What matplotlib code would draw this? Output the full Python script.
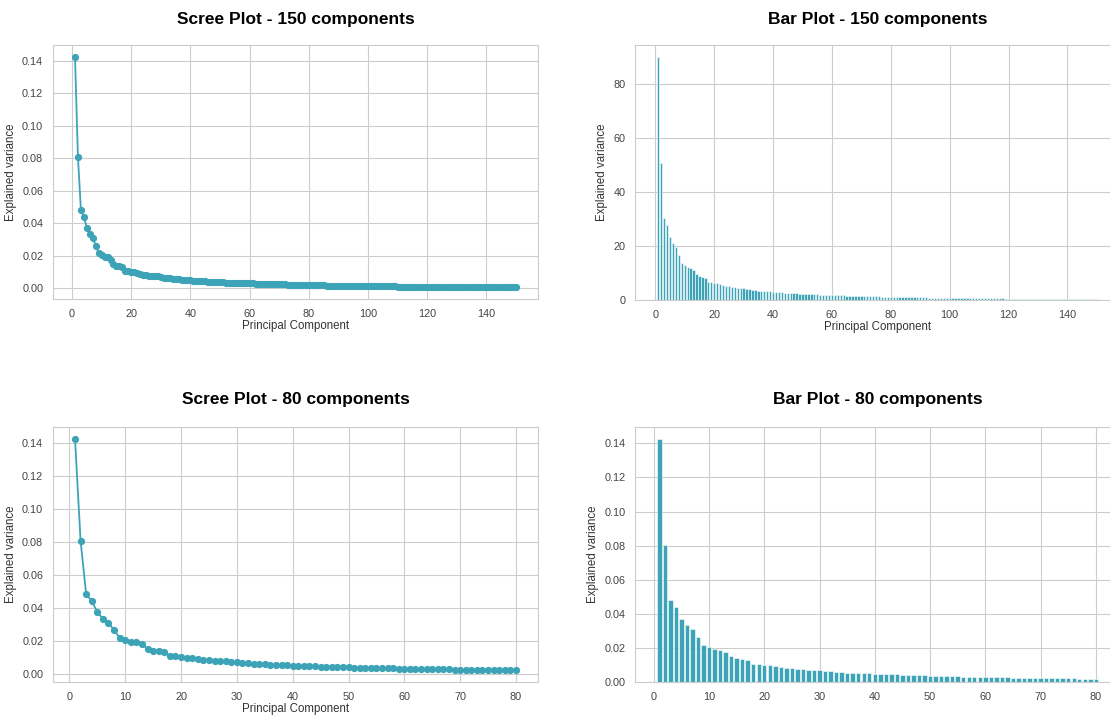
'''
Scree and bar plots of PCA explained variance for 150 and 80 components
'''

import matplotlib.pyplot as plt
import numpy as np
import seaborn as sns


# explained variance ratio of each principal component (1..150)
VARIANCE_RATIO = [
    0.1425, 0.0805, 0.0480, 0.0440, 0.0372, 0.0332, 0.0309, 0.0262, 0.0218, 0.0206,
    0.0191, 0.0190, 0.0176, 0.0150, 0.0139, 0.0135, 0.0131, 0.0106, 0.0104, 0.0101,
    0.0097, 0.0092, 0.0090, 0.0084, 0.0080, 0.0077, 0.0075, 0.0073, 0.0072, 0.0068,
    0.0064, 0.0063, 0.0060, 0.0058, 0.0055, 0.0054, 0.0053, 0.0051, 0.0050, 0.0048,
    0.0047, 0.0046, 0.0045, 0.0044, 0.0042, 0.0041, 0.0040, 0.0039, 0.0038, 0.0037,
    0.0036, 0.0035, 0.0035, 0.0034, 0.0033, 0.0032, 0.0031, 0.0031, 0.0030, 0.0029,
    0.0029, 0.0028, 0.0027, 0.0027, 0.0026, 0.0026, 0.0025, 0.0025, 0.0024, 0.0024,
    0.0023, 0.0023, 0.0022, 0.0022, 0.0021, 0.0021, 0.0020, 0.0020, 0.0019, 0.0019,
    0.00185, 0.00180, 0.00178, 0.00175, 0.00170, 0.00166, 0.00163, 0.00160, 0.00157, 0.00154,
    0.00150, 0.00148, 0.00145, 0.00142, 0.00140, 0.00137, 0.00134, 0.00132, 0.00130, 0.00127,
    0.00124, 0.00122, 0.00120, 0.00117, 0.00115, 0.00113, 0.00110, 0.00108, 0.00106, 0.00104,
    0.00102, 0.00100, 0.00098, 0.00096, 0.00094, 0.00092, 0.00090, 0.00089, 0.00087, 0.00085,
    0.00083, 0.00082, 0.00080, 0.00078, 0.00077, 0.00075, 0.00074, 0.00072, 0.00071, 0.00069,
    0.00068, 0.00066, 0.00065, 0.00064, 0.00062, 0.00061, 0.00060, 0.00058, 0.00057, 0.00056,
    0.00055, 0.00054, 0.00052, 0.00051, 0.00050, 0.00049, 0.00048, 0.00047, 0.00046, 0.00045,
]

# total variance of the data, turns ratios into absolute explained variance
TOTAL_VARIANCE = 632.0

COMPONENT_COUNTS = (150, 80)

COLOR = '#3da4b8'


def scree_plot(ax, ratios, title, pad=15):
    '''Line + marker plot of explained variance ratio'''

    components = np.arange(1, len(ratios) + 1)
    ax.plot(components, ratios, marker='o', markersize=4.2, linewidth=1.3, color=COLOR)
    ax.set_title(title, fontsize=12.5, fontweight='bold', color='black', pad=pad)
    ax.set_xlabel('Principal Component', fontsize=8.3, labelpad=1)
    ax.set_ylabel('Explained variance', fontsize=8.3)


def bar_plot(ax, values, title, xlabel=True, pad=15):
    '''Bar graph of explained variance'''

    components = np.arange(1, len(values) + 1)
    ax.bar(components, values, width=0.8, color=COLOR, edgecolor='white', linewidth=0.4)
    ax.set_title(title, fontsize=12.5, fontweight='bold', color='black', pad=pad)
    if xlabel:
        ax.set_xlabel('Principal Component', fontsize=8.3, labelpad=1)
    ax.set_ylabel('Explained variance', fontsize=8.3)


def main():

    sns.set_style('whitegrid')
    plt.rcParams['font.family'] = ['Liberation Sans', 'DejaVu Sans']
    plt.rcParams['xtick.labelsize'] = 7.8
    plt.rcParams['ytick.labelsize'] = 7.8
    plt.rcParams['xtick.color'] = '#444444'
    plt.rcParams['ytick.color'] = '#444444'
    plt.rcParams['axes.labelcolor'] = '#333333'

    fig = plt.figure(figsize=(11.1, 7.15), dpi=100)

    # axes boxes in figure fractions; the right column runs past the right edge
    ax_tl = fig.add_axes([0.0477, 0.5818, 0.437, 0.3552])
    ax_tr = fig.add_axes([0.5721, 0.5804, 0.437, 0.3566])
    ax_bl = fig.add_axes([0.0477, 0.0462, 0.437, 0.3566])
    ax_br = fig.add_axes([0.5721, 0.0462, 0.437, 0.3566])

    ratios = np.array(VARIANCE_RATIO)
    n_big, n_small = COMPONENT_COUNTS

    scree_plot(ax_tl, ratios[:n_big], 'Scree Plot - %d components' % n_big)
    bar_plot(ax_tr, ratios[:n_big] * TOTAL_VARIANCE, 'Bar Plot - %d components' % n_big)
    scree_plot(ax_bl, ratios[:n_small], 'Scree Plot - %d components' % n_small, pad=16.5)
    bar_plot(ax_br, ratios[:n_small], 'Bar Plot - %d components' % n_small,
             xlabel=False, pad=16.5)

    plt.savefig('out.png', dpi=100)


if __name__ == '__main__':
    main()
